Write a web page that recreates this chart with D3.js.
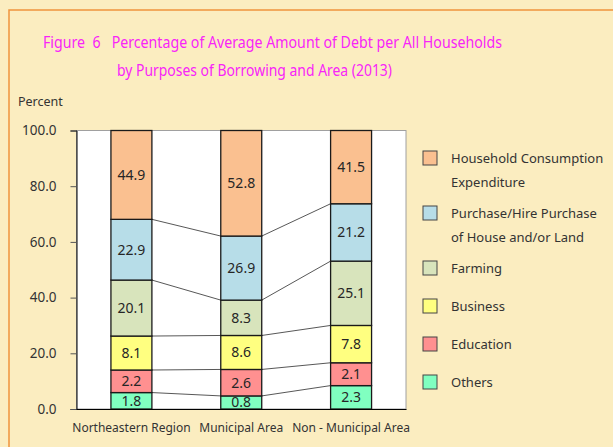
<!DOCTYPE html>
<html>
<head>
<meta charset="utf-8">
<script src="https://cdn.jsdelivr.net/npm/d3@7"></script>
<style>
  body { margin: 0; background: #fbedc0; }
  svg text { font-family: "Noto Sans", "Open Sans", sans-serif; }
</style>
</head>
<body>
<div id="chart"></div>
<script>
// areas along the x axis
var areas = ["Northeastern Region", "Municipal Area", "Non - Municipal Area"];

// purposes, bottom of the stack first
var purposes = ["Others", "Education", "Business", "Farming",
    "Purchase/Hire Purchase of House and/or Land", "Household Consumption Expenditure"];

// segment heights as drawn in the picture (percent), one array per purpose
var others = [5.9, 4.7, 8.4];
var education = [8.1, 9.5, 8.2];
var business = [12.2, 12.2, 13.4];
var farming = [20.1, 12.7, 23.1];
var house = [21.8, 23.0, 20.6];
var consumption = [31.9, 37.9, 26.3];

// printed value labels
var othersLabels = ["1.8", "0.8", "2.3"];
var educationLabels = ["2.2", "2.6", "2.1"];
var businessLabels = ["8.1", "8.6", "7.8"];
var farmingLabels = ["20.1", "8.3", "25.1"];
var houseLabels = ["22.9", "26.9", "21.2"];
var consumptionLabels = ["44.9", "52.8", "41.5"];

var yTicks = [0, 20, 40, 60, 80, 100];

var colors = ["#80ffc0", "#ff9090", "#ffff80", "#d8e4bc", "#b7dde8", "#fac090"];

// legend lines, top item first
var legendItems = [
    { key: 5, lines: ["Household Consumption", "Expenditure"] },
    { key: 4, lines: ["Purchase/Hire Purchase", "of House and/or Land"] },
    { key: 3, lines: ["Farming"] },
    { key: 2, lines: ["Business"] },
    { key: 1, lines: ["Education"] },
    { key: 0, lines: ["Others"] }
];

var series = [others, education, business, farming, house, consumption];
var seriesLabels = [othersLabels, educationLabels, businessLabels,
    farmingLabels, houseLabels, consumptionLabels];

// build rows for the stack
var rows = areas.map(function (a, i) {
    var r = { area: a };
    purposes.forEach(function (p, j) { r[p] = series[j][i]; });
    return r;
});

var W = 613, H = 447;
var plot = { left: 76.5, right: 406, top: 130.5, bottom: 409 };

var svg = d3.select("#chart")
    .append("svg")
    .attr("width", W)
    .attr("height", H);

// background and frame
svg.append("rect")
    .attr("width", W).attr("height", H)
    .attr("fill", "#fbedc0");
svg.append("rect")
    .attr("x", 9).attr("y", 10)
    .attr("width", W + 20).attr("height", H + 20)
    .attr("fill", "none")
    .attr("stroke", "#f0943c")
    .attr("stroke-width", 1.5);

// title
var title = svg.append("g")
    .attr("fill", "#f824f8")
    .style("font-size", "16.5px");
title.append("text")
    .attr("x", 43).attr("y", 48)
    .attr("xml:space", "preserve")
    .attr("textLength", 459)
    .attr("lengthAdjust", "spacingAndGlyphs")
    .style("white-space", "pre")
    .text("Figure  6   Percentage of Average Amount of Debt per All Households");
title.append("text")
    .attr("x", 117).attr("y", 76)
    .attr("textLength", 275)
    .attr("lengthAdjust", "spacingAndGlyphs")
    .text("by Purposes of Borrowing and Area (2013)");

svg.append("text")
    .attr("x", 18).attr("y", 106)
    .attr("fill", "#333")
    .style("font-size", "12.5px")
    .text("Percent");

// scales
var x = d3.scaleBand()
    .domain(areas)
    .range([plot.left, plot.right])
    .paddingInner(0.627)
    .paddingOuter(0.3135);

var y = d3.scaleLinear()
    .domain([0, 100])
    .range([plot.bottom, plot.top]);

// plot area
svg.append("rect")
    .attr("x", plot.left).attr("y", plot.top)
    .attr("width", plot.right - plot.left)
    .attr("height", plot.bottom - plot.top)
    .attr("fill", "#fff")
    .attr("stroke", "#a0a0a0")
    .attr("stroke-width", 1);

var stack = d3.stack().keys(purposes);
var layers = stack(rows);

// connector lines between the bars
var links = [];
layers.forEach(function (layer) {
    for (var i = 0; i < layer.length - 1; i++) {
        if (layer.key === purposes[purposes.length - 1]) continue;
        links.push({ a: areas[i], b: areas[i + 1], v0: layer[i][1], v1: layer[i + 1][1] });
    }
});
svg.append("g")
    .selectAll("line")
    .data(links)
    .enter()
    .append("line")
    .attr("x1", function (d) { return x(d.a) + x.bandwidth(); })
    .attr("x2", function (d) { return x(d.b); })
    .attr("y1", function (d) { return y(d.v0); })
    .attr("y2", function (d) { return y(d.v1); })
    .attr("stroke", "#444")
    .attr("stroke-width", 0.9);

// bars
var layerG = svg.append("g")
    .selectAll("g")
    .data(layers)
    .enter()
    .append("g")
    .attr("fill", function (d, i) { return colors[i]; });

layerG.selectAll("rect")
    .data(function (d) { return d; })
    .enter()
    .append("rect")
    .attr("x", function (d) { return x(d.data.area); })
    .attr("y", function (d) { return y(d[1]); })
    .attr("width", x.bandwidth())
    .attr("height", function (d) { return y(d[0]) - y(d[1]); })
    .attr("stroke", "#1a1a1a")
    .attr("stroke-width", 1.3);

// value labels
layerG.selectAll("text")
    .data(function (d, i) {
        return d.map(function (s, k) { return { s: s, label: seriesLabels[i][k] }; });
    })
    .enter()
    .append("text")
    .attr("x", function (d) { return x(d.s.data.area) + x.bandwidth() / 2; })
    .attr("y", function (d) { return (y(d.s[0]) + y(d.s[1])) / 2; })
    .attr("dy", "0.35em")
    .attr("text-anchor", "middle")
    .attr("fill", "#262626")
    .style("font-size", "14px")
    .text(function (d) { return d.label; });

// y axis
var yAxis = svg.append("g")
    .attr("transform", "translate(" + plot.left + ",0)")
    .call(d3.axisLeft(y).tickValues(yTicks).tickSize(6).tickPadding(14)
        .tickFormat(d3.format(".1f")));
yAxis.select(".domain").attr("stroke", "#000");
yAxis.selectAll(".tick line").attr("stroke", "#555");
yAxis.selectAll("text")
    .attr("fill", "#333")
    .style("font-size", "13.5px")
    .style("font-family", "'Noto Sans', sans-serif");

// x axis
var xAxis = svg.append("g")
    .attr("transform", "translate(0," + plot.bottom + ")")
    .call(d3.axisBottom(x).tickSize(0).tickPadding(14));
xAxis.select(".domain").attr("stroke", "#000");
xAxis.selectAll("text")
    .attr("fill", "#333")
    .style("font-size", "12px")
    .style("font-family", "'Noto Sans', sans-serif");

// legend
var legendY = [158, 213, 268, 306, 344, 382];
var legend = svg.append("g")
    .selectAll("g")
    .data(legendItems)
    .enter()
    .append("g")
    .attr("transform", function (d, i) { return "translate(423," + legendY[i] + ")"; });

legend.append("rect")
    .attr("x", 0).attr("y", -7)
    .attr("width", 14).attr("height", 14)
    .attr("fill", function (d) { return colors[d.key]; })
    .attr("stroke", "#444")
    .attr("stroke-width", 1);

legend.selectAll("text")
    .data(function (d) { return d.lines; })
    .enter()
    .append("text")
    .attr("x", 28)
    .attr("y", function (d, i) { return i * 24; })
    .attr("dy", "0.35em")
    .attr("fill", "#333")
    .style("font-size", "13px")
    .text(function (d) { return d; });
</script>
</body>
</html>
